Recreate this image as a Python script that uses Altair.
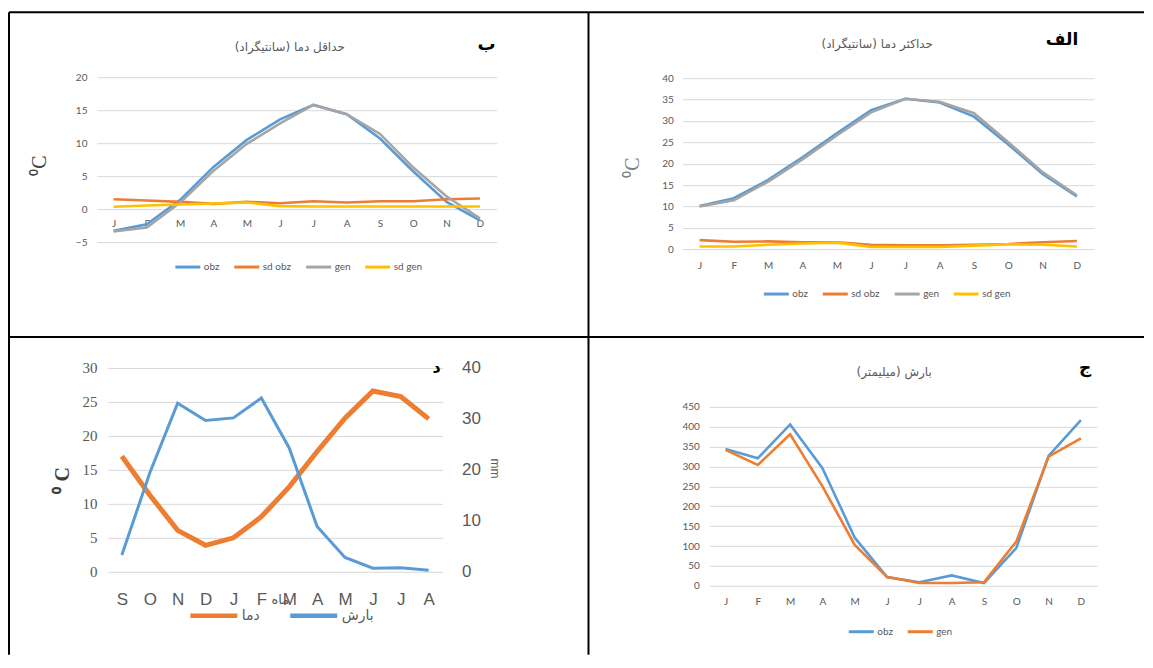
import json
import altair as alt
import pandas as pd

# ---------------- data ----------------
months = ["Jan", "Feb", "Mar", "Apr", "May", "Jun", "Jul", "Aug", "Sep", "Oct", "Nov", "Dec"]
month_letters = ["J", "F", "M", "A", "M", "J", "J", "A", "S", "O", "N", "D"]
months_d = ["Sep", "Oct", "Nov", "Dec", "Jan", "Feb", "Mar", "Apr", "May", "Jun", "Jul", "Aug"]
letters_d = ["S", "O", "N", "D", "J", "F", "M", "A", "M", "J", "J", "A"]

series4 = ["obz", "sd obz", "gen", "sd gen"]
colors4 = ["#5B9BD5", "#ED7D31", "#A5A5A5", "#FFC000"]
series2 = ["obz", "gen"]
colors2 = ["#5B9BD5", "#ED7D31"]
clim_series = ["دما", "بارش"]
clim_colors = ["#ED7D31", "#5B9BD5"]

# panel الف : maximum temperature
tmax_obz = [10.1, 11.9, 16.2, 21.5, 27.1, 32.5, 35.2, 34.3, 31.0, 24.5, 17.6, 12.3]
tmax_gen = [10.0, 11.4, 15.8, 21.0, 26.6, 32.0, 35.2, 34.5, 31.8, 25.0, 18.0, 12.6]
tmax_sd_obz = [2.1, 1.7, 1.8, 1.6, 1.6, 1.0, 0.9, 0.9, 1.0, 1.2, 1.6, 1.9]
tmax_sd_gen = [0.6, 0.6, 1.0, 1.3, 1.5, 0.5, 0.5, 0.5, 0.8, 1.1, 1.0, 0.6]
tmax_ticks = [0, 5, 10, 15, 20, 25, 30, 35, 40]

# panel ب : minimum temperature
tmin_obz = [-3.3, -2.3, 1.4, 6.4, 10.5, 13.6, 15.8, 14.4, 10.7, 5.7, 1.1, -1.7]
tmin_gen = [-3.4, -2.8, 1.0, 5.8, 9.9, 13.0, 15.8, 14.4, 11.4, 6.3, 1.9, -1.4]
tmin_sd_obz = [1.5, 1.3, 1.1, 0.8, 1.1, 0.9, 1.2, 1.0, 1.2, 1.2, 1.5, 1.6]
tmin_sd_gen = [0.35, 0.55, 0.7, 0.85, 1.0, 0.45, 0.4, 0.4, 0.4, 0.4, 0.4, 0.4]
tmin_ticks = [-5, 0, 5, 10, 15, 20]

# panel ج : precipitation
prec_obz = [344, 321, 406, 296, 121, 22, 9, 26, 7, 95, 327, 417]
prec_gen = [342, 304, 381, 250, 103, 22, 7, 7, 9, 111, 325, 371]
prec_ticks = [0, 50, 100, 150, 200, 250, 300, 350, 400, 450]

# panel د : climograph (Sep..Aug)
clim_temp = [17.0, 11.3, 6.1, 3.9, 5.0, 8.1, 12.5, 17.7, 22.6, 26.6, 25.8, 22.5]
clim_prec = [3.3, 19.4, 33.1, 29.7, 30.2, 34.1, 24.3, 8.9, 2.8, 0.7, 0.8, 0.3]
clim_temp_ticks = [0, 5, 10, 15, 20, 25, 30]
clim_prec_ticks = [0, 10, 20, 30, 40]

# ---------------- helpers ----------------
GRAY = "#595959"
GRID = "#D9D9D9"
FONT = "Lato"
AR = "DejaVu Sans"
RLM = "\u200f"
one = pd.DataFrame({"k": [0]})


def long_df(keys, named):
    rows = []
    for name, vals in named:
        for i, (k, v) in enumerate(zip(keys, vals)):
            rows.append({"month": k, "idx": i, "series": name, "value": v})
    return pd.DataFrame(rows)


def lbl_expr(keys, letters):
    return f"{json.dumps(letters)}[indexof({json.dumps(keys)}, datum.value)]"


def borders(w, h):
    top = alt.Chart(one).mark_rule(color="black", strokeWidth=2).encode(
        x=alt.value(0), x2=alt.value(w), y=alt.value(0))
    left = alt.Chart(one).mark_rule(color="black", strokeWidth=2).encode(
        x=alt.value(0), y=alt.value(0), y2=alt.value(h))
    return [top, left]


def text_at(text, x, y, size, bold=False, color=GRAY, font=AR):
    return alt.Chart(one).mark_text(
        text=text, font=font, fontSize=size, fontWeight="bold" if bold else "normal",
        color=color, align="center", baseline="middle").encode(x=alt.value(x), y=alt.value(y))


def month_x(keys, letters, xrange, offset, font, size, **extra):
    ax = dict(title=None, labelExpr=lbl_expr(keys, letters), domain=False, ticks=False,
              tickSize=0, grid=False, labelAngle=0, labelPadding=0, labelBaseline="middle",
              offset=offset, labelFont=font, labelFontSize=size, labelColor=GRAY,
              labelOverlap=False)
    ax.update(extra)
    return alt.X("month:N", scale=alt.Scale(type="point", domain=keys, range=xrange, padding=0.5),
                 axis=alt.Axis(**ax))


def value_y(domain, yrange, ticks, offset, **extra):
    ax = dict(values=ticks, offset=offset, labelPadding=2, tickSize=0, ticks=False,
              domain=False, grid=True, gridColor=GRID, gridWidth=1, labelFont=FONT,
              labelFontSize=10, labelColor=GRAY, labelOverlap=False, title=None)
    ax.update(extra)
    return alt.Y("value:Q", scale=alt.Scale(domain=domain, range=yrange, nice=False, zero=False),
                 axis=alt.Axis(**ax))


def legend(x, y, size, sw, font=FONT, fsize=10, pad=8):
    return alt.Legend(title=None, orient="none", legendX=x, legendY=y, direction="horizontal",
                      symbolType="stroke", symbolSize=size, symbolStrokeWidth=sw,
                      labelFont=font, labelFontSize=fsize, labelColor=GRAY,
                      columnPadding=pad, labelOffset=2, padding=0)


# ---------------- panel ب (min temp) ----------------
W1, H1 = 580, 325
df_b = long_df(months, [("obz", tmin_obz), ("sd obz", tmin_sd_obz),
                        ("gen", tmin_gen), ("sd gen", tmin_sd_gen)])
lines_b = alt.Chart(df_b).mark_line(strokeWidth=2.6).encode(
    x=month_x(months, month_letters, [88, 488], -114, FONT, 10),
    y=value_y([-5, 20], [230, 65], tmin_ticks, -80,
              title="⁰C", titleX=-49, titleY=153, titleAngle=270, titleFont="Liberation Serif",
              titleFontSize=20, titleFontWeight="normal", titleColor="#404040",
              titleAlign="center", titleBaseline="middle"),
    color=alt.Color("series:N", scale=alt.Scale(domain=series4, range=colors4),
                    legend=legend(165, 241, 625, 3)),
    order=alt.Order("idx:Q"),
)
panel_b = alt.layer(
    *borders(W1, H1), lines_b,
    text_at(RLM + "حداقل دما (سانتیگراد)" + RLM, 281, 35, 12),
    text_at("ب", 478, 33, 18, bold=True, color="black"),
).properties(width=W1, height=H1)

# ---------------- panel الف (max temp) ----------------
W2 = 556
df_a = long_df(months, [("obz", tmax_obz), ("sd obz", tmax_sd_obz),
                        ("gen", tmax_gen), ("sd gen", tmax_sd_gen)])
lines_a = alt.Chart(df_a).mark_line(strokeWidth=2.6).encode(
    x=month_x(months, month_letters, [94, 506], -72, FONT, 10),
    y=value_y([0, 40], [237, 66], tmax_ticks, -87,
              title="⁰C", titleX=-43, titleY=155, titleAngle=270, titleFont="Liberation Serif",
              titleFontSize=20, titleFontWeight="normal", titleColor="#7F7F7F",
              titleAlign="center", titleBaseline="middle"),
    color=alt.Color("series:N", scale=alt.Scale(domain=series4, range=colors4),
                    legend=legend(174, 268, 625, 3)),
    order=alt.Order("idx:Q"),
)
panel_a = alt.layer(
    *borders(W2, H1), lines_a,
    text_at(RLM + "حداکثر دما (سانتیگراد)" + RLM, 289, 32, 12),
    text_at("الف", 474, 28, 17, bold=True, color="black"),
).properties(width=W2, height=H1)

# ---------------- panel د (climograph) ----------------
H2 = 318
df_t = long_df(months_d, [("دما", clim_temp)])
df_p = long_df(months_d, [("بارش", clim_prec)])
x_d = month_x(months_d, letters_d, [99, 434], -55, "Liberation Sans", 17,
              title="ماه", titleX=271, titleY=0, titleBaseline="middle", titleAlign="center",
              titleFont=AR, titleFontSize=13, titleFontWeight="normal", titleColor=GRAY)
color_d = alt.Color("series:N", scale=alt.Scale(domain=clim_series, range=clim_colors),
                    legend=legend(179, 253, 2209, 4.5, font=AR, fsize=14, pad=21))
temp_line = alt.Chart(df_t).mark_line(strokeWidth=5).encode(
    x=x_d,
    y=value_y([0, 30], [235, 31], clim_temp_ticks, -90,
              labelFont="Liberation Serif", labelFontSize=15,
              title="⁰ C", titleX=-36, titleY=143, titleAngle=270, titleFont="Liberation Serif",
              titleFontSize=20, titleFontWeight="bold", titleColor="#404040",
              titleAlign="center", titleBaseline="middle"),
    color=color_d, order=alt.Order("idx:Q"),
)
prec_line = alt.Chart(df_p).mark_line(strokeWidth=3).encode(
    x=x_d,
    y=value_y([0, 40], [235, 31], clim_prec_ticks, -129, orient="right", grid=False,
              labelFont="Liberation Sans", labelFontSize=17,
              title="mm", titleX=35, titleY=131, titleAngle=90, titleFont="Liberation Sans",
              titleFontSize=12, titleFontWeight="normal", titleColor=GRAY,
              titleAlign="center", titleBaseline="middle"),
    color=color_d, order=alt.Order("idx:Q"),
)
panel_d = alt.layer(
    *borders(W1, H2), temp_line, prec_line,
    text_at("د", 428, 31, 16, bold=True, color="black"),
).resolve_scale(y="independent").properties(width=W1, height=H2)

# ---------------- panel ج (precipitation) ----------------
df_j = long_df(months, [("obz", prec_obz), ("gen", prec_gen)])
lines_j = alt.Chart(df_j).mark_line(strokeWidth=2.6).encode(
    x=month_x(months, month_letters, [121, 509], -53, FONT, 10),
    y=value_y([0, 450], [249, 70], prec_ticks, -113),
    color=alt.Color("series:N", scale=alt.Scale(domain=series2, range=colors2),
                    legend=legend(259, 281, 625, 3)),
    order=alt.Order("idx:Q"),
)
panel_j = alt.layer(
    *borders(W2, H2), lines_j,
    text_at(RLM + "بارش (میلیمتر)" + RLM, 306, 35, 12),
    text_at("ج", 497, 31, 17, bold=True, color="black"),
).properties(width=W2, height=H2)

# ---------------- assemble ----------------
chart = alt.concat(panel_b, panel_a, panel_d, panel_j, columns=2, spacing=0,
                   bounds="flush").resolve_scale(
    color="independent").resolve_legend(color="independent").properties(
    padding={"left": 0, "top": 3, "right": 0, "bottom": 0},
    background="white",
).configure_view(stroke=None)

chart.save("out.html", embed_options={"renderer": "svg", "actions": False})
